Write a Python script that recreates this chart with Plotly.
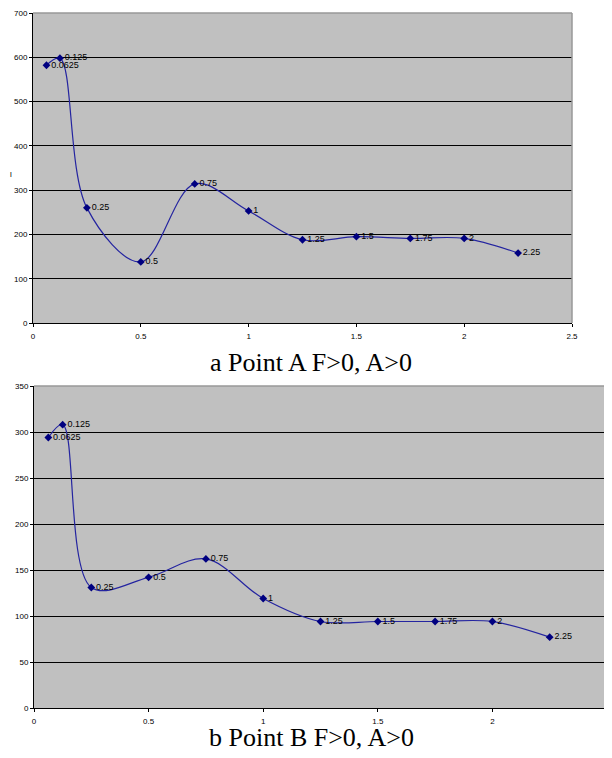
import plotly.graph_objects as go

x_vals = [0.0625, 0.125, 0.25, 0.5, 0.75, 1, 1.25, 1.5, 1.75, 2, 2.25]
point_a = [582, 598, 260, 138, 314, 253, 188, 195, 191, 191, 158]
point_b = [294, 308, 131, 142, 162, 119, 94, 94, 94, 94, 77]
x_ticks = [0, 0.5, 1, 1.5, 2, 2.5]
y_ticks_a = [0, 100, 200, 300, 400, 500, 600, 700]
y_ticks_b = [0, 50, 100, 150, 200, 250, 300, 350]
caption_a = "a Point A F>0, A>0"
caption_b = "b Point B F>0, A>0"

labels = [f"{v:g}" for v in x_vals]

# page body has an 8px default margin; size the figure to fit the window
OFF = 8
W, H = 612 - OFF, 758 - OFF
line_col = "#2424a0"
mark_col = "#000080"

fig = go.Figure()

for vals, xa, ya in [(point_a, "x", "y"), (point_b, "x2", "y2")]:
    fig.add_trace(go.Scatter(
        x=x_vals, y=vals, xaxis=xa, yaxis=ya,
        mode="lines+markers+text",
        line=dict(color=line_col, width=1.2, shape="spline", smoothing=1.0),
        marker=dict(symbol="diamond", size=6, color=mark_col),
        text=labels, textposition="middle right",
        textfont=dict(family="Arial, Liberation Sans", size=9, color="#000"),
        cliponaxis=False, showlegend=False,
    ))

def px_x(p):
    return (p - OFF) / W

def px_y(p):
    return 1 - (p - OFF) / H

axis_common = dict(
    showline=True, linecolor="#000", linewidth=1,
    ticks="outside", ticklen=3, tickcolor="#000",
    tickfont=dict(family="Arial, Liberation Sans", size=8, color="#000"),
    zeroline=False,
)

fig.update_layout(
    width=W, height=H,
    margin=dict(l=0, r=0, t=0, b=0, autoexpand=False),
    paper_bgcolor="white", plot_bgcolor="#c0c0c0",
    xaxis=dict(domain=[px_x(33), px_x(572)], range=[0, 2.5], tickvals=x_ticks,
               ticktext=[f"{v:g}" for v in x_ticks], showgrid=False, anchor="y",
               ticklabelstandoff=2, **axis_common),
    yaxis=dict(domain=[px_y(323), px_y(13)], range=[0, 700], tickvals=y_ticks_a,
               showgrid=True, gridcolor="#000", gridwidth=1, anchor="x", **axis_common),
    xaxis2=dict(domain=[px_x(34), px_x(607)], range=[0, 2.5], tickvals=x_ticks,
                ticktext=[f"{v:g}" for v in x_ticks], showgrid=False, anchor="y2",
                ticklabelstandoff=2, **axis_common),
    yaxis2=dict(domain=[px_y(708), px_y(386)], range=[0, 350], tickvals=y_ticks_b,
                showgrid=True, gridcolor="#000", gridwidth=1, anchor="x2", **axis_common),
    shapes=[
        dict(type="line", xref="x domain", yref="y domain", x0=0, x1=1, y0=1, y1=1,
             line=dict(color="#999", width=1.5), layer="above"),
        dict(type="line", xref="x domain", yref="y domain", x0=1, x1=1, y0=0, y1=1,
             line=dict(color="#999", width=1.5), layer="above"),
        dict(type="line", xref="x2 domain", yref="y2 domain", x0=0, x1=1, y0=1, y1=1,
             line=dict(color="#999", width=1.5), layer="above"),
        dict(type="line", xref="x2 domain", yref="y2 domain", x0=1, x1=1, y0=0, y1=1,
             line=dict(color="#999", width=1.5), layer="above"),
    ],
    annotations=[
        dict(text=caption_a, xref="paper", yref="paper", x=px_x(311), y=px_y(362),
             xanchor="center", yanchor="middle", showarrow=False,
             font=dict(family="Liberation Serif, Times New Roman", size=26, color="#000")),
        dict(text=caption_b, xref="paper", yref="paper", x=px_x(311), y=px_y(737),
             xanchor="center", yanchor="middle", showarrow=False,
             font=dict(family="Liberation Serif, Times New Roman", size=26, color="#000")),
        dict(text="l", xref="paper", yref="paper", x=0, xanchor="left", y=px_y(174),
             yanchor="middle", showarrow=False,
             font=dict(family="Arial, Liberation Sans", size=8, color="#000")),
    ],
)

fig.write_html("out.html")
